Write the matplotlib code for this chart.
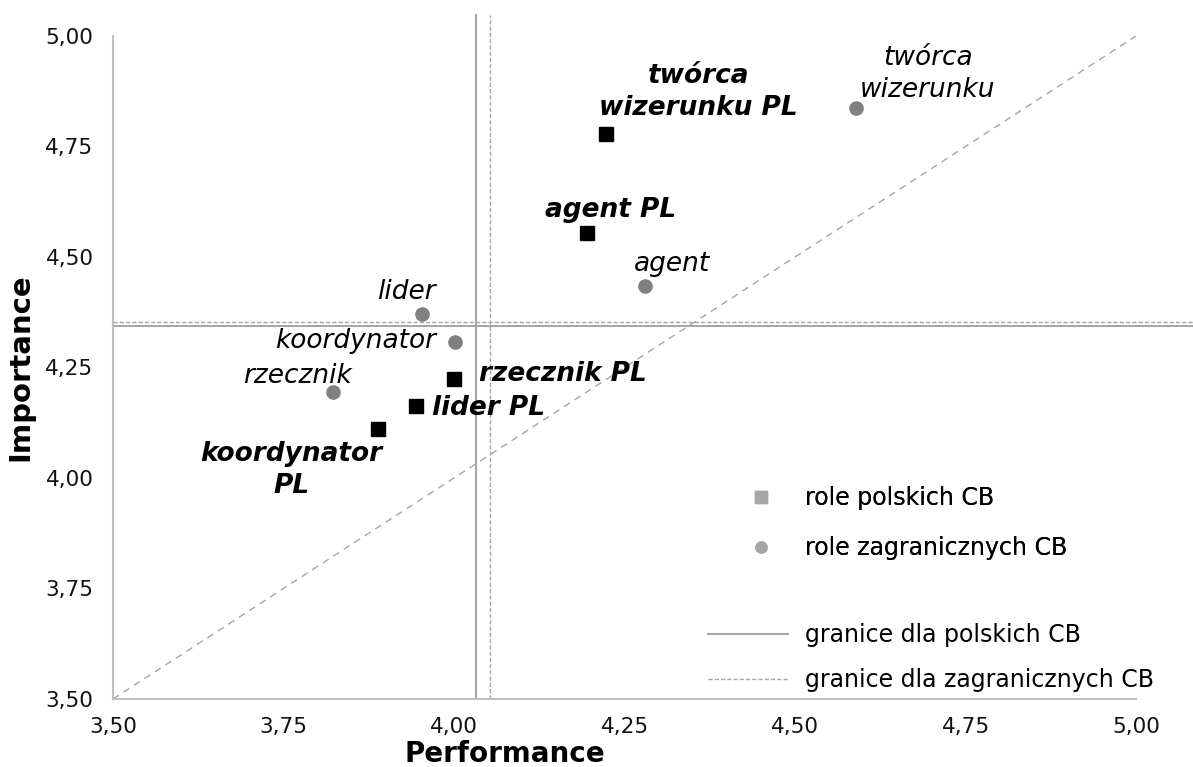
import numpy as np
import matplotlib.pyplot as plt
from matplotlib.lines import Line2D
from matplotlib.ticker import FuncFormatter

# Dane: role polskich CB (kwadraty) i zagranicznych CB (kółka)
role_pl = ["twórca\nwizerunku PL", "agent PL", "rzecznik PL", "lider PL", "koordynator\nPL"]
perf_pl = [4.223, 4.195, 4.000, 3.944, 3.888]
imp_pl = [4.778, 4.555, 4.223, 4.164, 4.111]

role_zagr = ["twórca\nwizerunku", "agent", "lider", "koordynator", "rzecznik"]
perf_zagr = [4.589, 4.280, 3.953, 4.001, 3.822]
imp_zagr = [4.836, 4.434, 4.370, 4.307, 4.195]

# granice (średnie)
granica_pl = (4.032, 4.344)
granica_zagr = (4.053, 4.352)

ticks = [3.50, 3.75, 4.00, 4.25, 4.50, 4.75, 5.00]

# pozycje etykiet (x, y)
etyk_pl = [(4.358, 4.873), (4.229, 4.606), (4.160, 4.235), (4.051, 4.158), (3.762, 4.018)]
etyk_zagr = [(4.695, 4.915), (4.320, 4.484), (3.930, 4.421), (3.856, 4.310), (3.771, 4.231)]

fig = plt.figure(figsize=(11.93, 7.67), dpi=100)
ax = fig.add_axes([113/1193, 1 - 699/767, 1023/1193, 663/767])

szary = '#a6a6a6'

# linie graniczne (wychodzą poza obszar osi)
ax.plot([granica_pl[0]] * 2, [3.5, 5.048], color=szary, lw=1.5, clip_on=False, zorder=1)
ax.plot([3.5, 5.084], [granica_pl[1]] * 2, color=szary, lw=1.5, clip_on=False, zorder=1)
ax.plot([granica_zagr[0]] * 2, [3.5, 5.048], color=szary, lw=1, ls=(0, (3, 1.5)), clip_on=False, zorder=1)
ax.plot([3.5, 5.084], [granica_zagr[1]] * 2, color=szary, lw=1, ls=(0, (3, 1.5)), clip_on=False, zorder=1)

# przekątna
ax.plot([3.5, 5.0], [3.5, 5.0], color=szary, lw=1, ls=(0, (5, 4)), zorder=1)

# punkty
ax.plot(perf_pl, imp_pl, 's', color='black', ms=10, ls='none', zorder=3)
ax.plot(perf_zagr, imp_zagr, 'o', color='#808080', ms=9.5, ls='none', zorder=3)

for nazwa, (x, y) in zip(role_pl, etyk_pl):
    ax.text(x, y, nazwa, fontsize=19, fontweight='bold', fontstyle='italic',
            ha='center', va='center', linespacing=1.3, zorder=4)
for nazwa, (x, y) in zip(role_zagr, etyk_zagr):
    ax.text(x, y, nazwa, fontsize=19, fontstyle='italic',
            ha='center', va='center', linespacing=1.3, zorder=4)

ax.set_xlim(3.5, 5.0)
ax.set_ylim(3.5, 5.0)
ax.set_xticks(ticks)
ax.set_yticks(ticks)
fmt = FuncFormatter(lambda v, p: f"{v:.2f}".replace('.', ','))
ax.xaxis.set_major_formatter(fmt)
ax.yaxis.set_major_formatter(fmt)
ax.tick_params(length=0, labelsize=15.5, labelcolor='#111111')
ax.tick_params(axis='x', pad=13)
ax.tick_params(axis='y', pad=14)

for s in ['top', 'right']:
    ax.spines[s].set_visible(False)
for s in ['left', 'bottom']:
    ax.spines[s].set_color('#bfbfbf')
    ax.spines[s].set_linewidth(1.5)

ax.set_xlabel("Performance", fontsize=20, fontweight='bold')
ax.set_ylabel("Importance", fontsize=21, fontweight='bold')
ax.xaxis.set_label_coords((505 - 113) / 1023, -0.062)
ax.yaxis.set_label_coords(-0.077, 0.5)

# legenda
h1 = [Line2D([], [], marker='s', color=szary, ls='none', ms=9),
      Line2D([], [], marker='o', color=szary, ls='none', ms=8)]
leg1 = fig.legend(h1, ["role polskich CB", "role zagranicznych CB"], loc='upper left',
                  bbox_to_anchor=(737.5 / 1193, 1 - 486 / 767), frameon=False, fontsize=17,
                  handlelength=2, handletextpad=0.87, labelspacing=1.12, borderpad=0,
                  borderaxespad=0)
h2 = [Line2D([], [], color=szary, lw=1.5),
      Line2D([], [], color=szary, lw=1, ls=(0, (3, 1.5)))]
leg2 = fig.legend(h2, ["granice dla polskich CB", "granice dla zagranicznych CB"], loc='upper left',
                  bbox_to_anchor=(708 / 1193, 1 - 623 / 767), frameon=False, fontsize=17,
                  handlelength=3.39, handletextpad=0.72, labelspacing=0.88, borderpad=0,
                  borderaxespad=0)
fig.add_artist(leg1)

fig.savefig("out.png", dpi=100)
